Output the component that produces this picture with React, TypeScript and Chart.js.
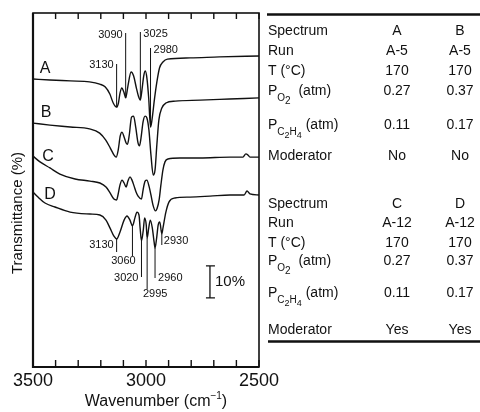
import React, { useEffect, useRef } from "react";
import { Chart, registerables } from "chart.js";
Chart.register(...registerables);

// ---------- data (wavenumber in cm^-1, transmittance in % with vertical offsets) ----------
const WN_A = [3500, 3425, 3335, 3250, 3205, 3180, 3160, 3145, 3130, 3122, 3115, 3107, 3098, 3090, 3080, 3066, 3055, 3042, 3033, 3025, 3018, 3010, 3003, 2996, 2988, 2980, 2974, 2962, 2952, 2940, 2925, 2905, 2805, 2675, 2500];
const T_A = [90.0, 89.7, 89.4, 89.1, 88.4, 87.5, 85.3, 82.5, 81.2, 82.5, 85.6, 87.2, 85.9, 84.1, 87.8, 92.2, 91.0, 87.0, 84.5, 83.4, 86.5, 91.0, 92.5, 90.3, 84.0, 75.0, 77.0, 84.0, 89.0, 93.5, 95.3, 96.2, 96.6, 96.9, 97.2];

const WN_B = [3500, 3425, 3335, 3250, 3205, 3178, 3158, 3142, 3132, 3123, 3114, 3106, 3097, 3088, 3082, 3074, 3064, 3055, 3045, 3036, 3029, 3022, 3013, 3004, 2996, 2987, 2978, 2968, 2960, 2952, 2943, 2930, 2912, 2870, 2760, 2630, 2500];
const T_B = [76.2, 75.6, 75.0, 74.4, 73.1, 70.9, 68.4, 66.3, 65.6, 67.8, 72.2, 73.4, 71.9, 70.0, 69.6, 72.5, 78.1, 78.4, 74.7, 70.3, 69.1, 71.6, 76.6, 78.4, 77.8, 74.0, 66.2, 60.0, 61.6, 69.4, 77.2, 80.9, 82.5, 83.1, 83.4, 83.75, 84.1];

const WN_C = [3500, 3469, 3425, 3381, 3314, 3248, 3204, 3177, 3159, 3142, 3130, 3124, 3115, 3106, 3097, 3088, 3080, 3071, 3062, 3053, 3044, 3035, 3020, 3013, 3004, 2996, 2987, 2978, 2969, 2958, 2951, 2942, 2934, 2925, 2916, 2903, 2850, 2761, 2628, 2571, 2558, 2549, 2540, 2500];
const T_C = [65.9, 64.1, 62.2, 60.3, 58.75, 58.1, 57.5, 56.25, 54.4, 52.5, 52.2, 53.75, 56.9, 58.4, 57.5, 56.25, 58.1, 59.4, 58.4, 56.6, 54.7, 53.4, 52.5, 55.3, 58.1, 58.4, 56.6, 53.75, 50.6, 48.8, 49.5, 52.2, 56.9, 61.6, 64.1, 65.0, 65.3, 65.3, 65.6, 65.6, 66.6, 66.25, 65.6, 65.6];

const WN_D = [3500, 3478, 3447, 3403, 3336, 3248, 3204, 3177, 3159, 3142, 3130, 3115, 3097, 3084, 3071, 3060, 3049, 3040, 3031, 3026, 3020, 3012, 3006, 2999, 2995, 2988, 2981, 2972, 2964, 2960, 2953, 2946, 2939, 2930, 2925, 2912, 2898, 2872, 2805, 2717, 2628, 2566, 2553, 2540, 2500];
const T_D = [54.7, 53.1, 51.25, 50.0, 48.4, 47.8, 47.5, 45.9, 43.4, 40.9, 40.0, 42.2, 45.9, 47.2, 45.9, 44.1, 46.6, 48.4, 47.5, 43.4, 39.4, 42.8, 46.6, 44.4, 40.3, 43.4, 45.9, 43.4, 39.0, 37.2, 40.3, 44.4, 45.3, 41.6, 43.4, 48.4, 51.6, 52.8, 53.1, 53.4, 53.75, 53.75, 55.0, 54.1, 53.75];

const SERIES_NAMES = ["A", "B", "C", "D"];
const X_TICKS = [3500, 3400, 3300, 3200, 3100, 3000, 2900, 2800, 2700, 2600, 2500];
const X_TICK_LABELS = [3500, 3000, 2500];
const PEAKS_A = [3130, 3090, 3025, 2980];
const PEAKS_D = [3130, 3060, 3020, 2995, 2960, 2930];
const SCALE_BAR_PCT = 10;
const SCALE_BAR_WN = 2717;
const SCALE_BAR_TOP = 31.6;

const ROW_LABELS = ["Spectrum", "Run", "T (°C)", "PO2", "PC2H4", "Moderator"];
const TOP_SPECTRA = ["A", "B"];
const TOP_RUN = ["A-5", "A-5"];
const TOP_T = ["170", "170"];
const TOP_PO2 = ["0.27", "0.37"];
const TOP_PC2H4 = ["0.11", "0.17"];
const TOP_MOD = ["No", "No"];
const BOT_SPECTRA = ["C", "D"];
const BOT_RUN = ["A-12", "A-12"];
const BOT_T = ["170", "170"];
const BOT_PO2 = ["0.27", "0.37"];
const BOT_PC2H4 = ["0.11", "0.17"];
const BOT_MOD = ["Yes", "Yes"];

// ---------- layout / style ----------
const FONT = '"Liberation Sans", Arial, sans-serif';
const INK = "#111";

type Part = { t: string; s: number; dy: number };

function richWidth(ctx: CanvasRenderingContext2D, parts: Part[]) {
  let w = 0;
  for (const p of parts) {
    ctx.font = `${p.s}px ${FONT}`;
    w += ctx.measureText(p.t).width;
  }
  return w;
}
function drawRich(ctx: CanvasRenderingContext2D, x: number, y: number, parts: Part[]) {
  let cx = x;
  ctx.textAlign = "left";
  ctx.textBaseline = "alphabetic";
  for (const p of parts) {
    ctx.font = `${p.s}px ${FONT}`;
    ctx.fillText(p.t, cx, y + p.dy);
    cx += ctx.measureText(p.t).width;
  }
}

function labelParts(label: string): Part[] {
  const S = 14;
  if (label === "PO2")
    return [
      { t: "P", s: S, dy: 0 },
      { t: "O", s: 10, dy: 6 },
      { t: "2", s: 10, dy: 9 },
      { t: "  (atm)", s: S, dy: 0 },
    ];
  if (label === "PC2H4")
    return [
      { t: "P", s: S, dy: 0 },
      { t: "C", s: 10, dy: 6 },
      { t: "2", s: 9, dy: 9 },
      { t: "H", s: 10, dy: 6 },
      { t: "4", s: 9, dy: 9 },
      { t: " (atm)", s: S, dy: 0 },
    ];
  return [{ t: label, s: S, dy: 0 }];
}

const SERIES = [
  [WN_A, T_A],
  [WN_B, T_B],
  [WN_C, T_C],
  [WN_D, T_D],
];

function valueAt(wn: number[], t: number[], x: number) {
  const i = wn.indexOf(x);
  return i >= 0 ? t[i] : NaN;
}

const decor = {
  id: "decor",
  beforeDraw(chart: any) {
    const ctx = chart.ctx as CanvasRenderingContext2D;
    ctx.save();
    ctx.fillStyle = "#fff";
    ctx.fillRect(0, 0, chart.width, chart.height);
    ctx.restore();
  },
  afterDatasetsDraw(chart: any) {
    const ctx = chart.ctx as CanvasRenderingContext2D;
    const xs = chart.scales.x;
    const ys = chart.scales.y;
    const { left, right, top, bottom } = chart.chartArea;
    ctx.save();
    ctx.strokeStyle = INK;
    ctx.fillStyle = INK;

    // frame
    ctx.lineWidth = 1.6;
    ctx.strokeRect(left, top, right - left, bottom - top);
    ctx.lineWidth = 2.2;
    ctx.beginPath();
    ctx.moveTo(left, top);
    ctx.lineTo(left, bottom);
    ctx.lineTo(right, bottom);
    ctx.stroke();

    // ticks (inward, top and bottom)
    ctx.lineWidth = 1.4;
    for (const v of X_TICKS) {
      const px = xs.getPixelForValue(v);
      ctx.beginPath();
      ctx.moveTo(px, top);
      ctx.lineTo(px, top + 6);
      ctx.moveTo(px, bottom);
      ctx.lineTo(px, bottom - 7);
      ctx.stroke();
    }
    ctx.font = `18px ${FONT}`;
    ctx.textAlign = "center";
    ctx.textBaseline = "alphabetic";
    for (const v of X_TICK_LABELS) {
      ctx.fillText(String(v), xs.getPixelForValue(v), bottom + 19);
    }

    // x title with superscript
    const tparts: Part[] = [
      { t: "Wavenumber (cm", s: 16, dy: 0 },
      { t: "−1", s: 10, dy: -7 },
      { t: ")", s: 16, dy: 0 },
    ];
    const tw = richWidth(ctx, tparts);
    drawRich(ctx, (left + right) / 2 + 10 - tw / 2, bottom + 39, tparts);

    // y title
    ctx.save();
    ctx.translate(18, 213);
    ctx.rotate(-Math.PI / 2);
    ctx.font = `15px ${FONT}`;
    ctx.textAlign = "center";
    ctx.textBaseline = "middle";
    ctx.fillText("Transmittance (%)", 0, 0);
    ctx.restore();

    // curve letters
    ctx.font = `16px ${FONT}`;
    ctx.textAlign = "center";
    ctx.textBaseline = "middle";
    const letterPos = [
      [45, 69],
      [46, 113],
      [48, 157],
      [50, 195],
    ];
    SERIES_NAMES.forEach((n, i) => ctx.fillText(n, letterPos[i][0], letterPos[i][1]));

    // peak annotations, spectrum A (labels above)
    const aLayout: Record<number, { lt: number; dx: number; ty: number; al: CanvasTextAlign }> = {
      3130: { lt: 64, dx: -3, ty: 65, al: "right" },
      3090: { lt: 33, dx: -3, ty: 35, al: "right" },
      3025: { lt: 32, dx: 3, ty: 34, al: "left" },
      2980: { lt: 48, dx: 3, ty: 50, al: "left" },
    };
    ctx.lineWidth = 1;
    ctx.font = `11px ${FONT}`;
    ctx.textBaseline = "middle";
    for (const p of PEAKS_A) {
      const L = aLayout[p];
      const px = xs.getPixelForValue(p);
      const py = ys.getPixelForValue(valueAt(WN_A, T_A, p));
      ctx.beginPath();
      ctx.moveTo(px, L.lt);
      ctx.lineTo(px, py);
      ctx.stroke();
      ctx.textAlign = L.al;
      ctx.fillText(String(p), px + L.dx, L.ty);
    }
    // spectrum D (labels below)
    const dLayout: Record<number, { lb: number; dx: number; ty: number; al: CanvasTextAlign }> = {
      3130: { lb: 252, dx: -3, ty: 245, al: "right" },
      3060: { lb: 256, dx: -9, ty: 261, al: "center" },
      3020: { lb: 277, dx: -3, ty: 278, al: "right" },
      2995: { lb: 289, dx: 8, ty: 294, al: "center" },
      2960: { lb: 278, dx: 3, ty: 278, al: "left" },
      2930: { lb: 245, dx: 2, ty: 241, al: "left" },
    };
    for (const p of PEAKS_D) {
      const L = dLayout[p];
      const px = xs.getPixelForValue(p);
      const py = ys.getPixelForValue(valueAt(WN_D, T_D, p));
      ctx.beginPath();
      ctx.moveTo(px, py);
      ctx.lineTo(px, L.lb);
      ctx.stroke();
      ctx.textAlign = L.al;
      ctx.fillText(String(p), px + L.dx, L.ty);
    }

    // 10% scale bar
    const bx = xs.getPixelForValue(SCALE_BAR_WN);
    const by0 = ys.getPixelForValue(SCALE_BAR_TOP);
    const by1 = ys.getPixelForValue(SCALE_BAR_TOP - SCALE_BAR_PCT);
    ctx.lineWidth = 1.3;
    ctx.beginPath();
    ctx.moveTo(bx, by0);
    ctx.lineTo(bx, by1);
    ctx.moveTo(bx - 4, by0);
    ctx.lineTo(bx + 5, by0);
    ctx.moveTo(bx - 4, by1);
    ctx.lineTo(bx + 5, by1);
    ctx.stroke();
    ctx.font = `15px ${FONT}`;
    ctx.textAlign = "left";
    ctx.textBaseline = "middle";
    ctx.fillText(`${SCALE_BAR_PCT}%`, bx + 5, (by0 + by1) / 2);

    // table
    const LX = 268;
    const COLS = [397, 460];
    const topBase = [35, 55, 75, 95, 129, 160];
    const botBase = [208, 227, 247, 265, 297, 334];
    const topVals = [TOP_SPECTRA, TOP_RUN, TOP_T, TOP_PO2, TOP_PC2H4, TOP_MOD];
    const botVals = [BOT_SPECTRA, BOT_RUN, BOT_T, BOT_PO2, BOT_PC2H4, BOT_MOD];
    const drawBlock = (bases: number[], vals: string[][]) => {
      ROW_LABELS.forEach((lab, i) => {
        drawRich(ctx, LX, bases[i], labelParts(lab));
        ctx.font = `14px ${FONT}`;
        ctx.textAlign = "center";
        ctx.textBaseline = "alphabetic";
        vals[i].forEach((v, j) => ctx.fillText(v, COLS[j], bases[i]));
      });
    };
    drawBlock(topBase, topVals);
    drawBlock(botBase, botVals);
    ctx.lineWidth = 2.6;
    ctx.beginPath();
    ctx.moveTo(267, 14.5);
    ctx.lineTo(480, 14.5);
    ctx.moveTo(268, 341.5);
    ctx.lineTo(480, 341.5);
    ctx.stroke();

    ctx.restore();
  },
};

export default function App() {
  const ref = useRef<HTMLCanvasElement | null>(null);
  useEffect(() => {
    if (!ref.current) return;
    const chart = new Chart(ref.current, {
      type: "line",
      data: {
        datasets: SERIES.map(([wn, t], i) => ({
          label: SERIES_NAMES[i],
          data: wn.map((x, k) => ({ x, y: t[k] })),
          borderColor: INK,
          borderWidth: 1.4,
          pointRadius: 0,
          fill: false,
          cubicInterpolationMode: "monotone" as const,
        })),
      },
      options: {
        animation: false,
        responsive: false,
        devicePixelRatio: 1,
        layout: { padding: { left: 33, top: 13, right: 221, bottom: 45 } },
        scales: {
          x: { type: "linear", min: 2500, max: 3500, reverse: true, display: false },
          y: { min: 0, max: 110.625, display: false },
        },
        plugins: { legend: { display: false }, tooltip: { enabled: false } },
      },
      plugins: [decor],
    });
    return () => chart.destroy();
  }, []);
  return (
    <div style={{ position: "fixed", left: 0, top: 0, width: 480, height: 412, background: "#fff" }}>
      <canvas ref={ref} width={480} height={412} />
    </div>
  );
}
